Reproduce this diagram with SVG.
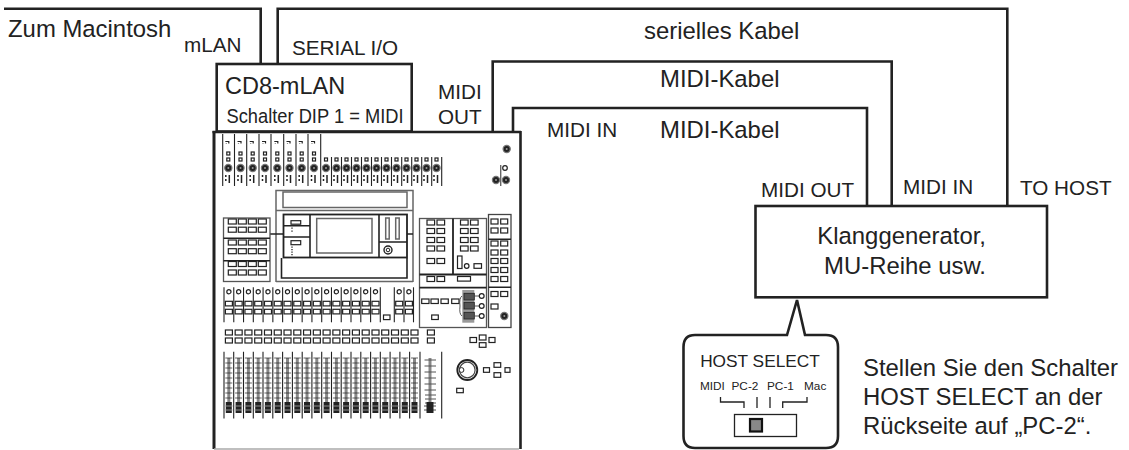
<svg xmlns="http://www.w3.org/2000/svg" width="1129" height="450" viewBox="0 0 1129 450">
<style>
text{font-family:"Liberation Sans",Arial,sans-serif;fill:#222;font-size:23.900px}
.w{fill:none;stroke:#222;stroke-width:2.600}
.box{fill:#fff;stroke:#222;stroke-width:2.600}
.b{fill:#fff;stroke:#222;stroke-width:1.200}
.g{fill:none;stroke:#666;stroke-width:1.500}
.k{fill:none;stroke:#222;stroke-width:1.600}
.t{fill:none;stroke:#222;stroke-width:1.200}
.l{stroke:#222;stroke-width:1.100;fill:none}
text.s{font-size:20.700px}
text.m{font-size:11.800px}
</style>
<defs>
<g id="knob"><circle r="3.600" fill="#222" stroke="#777" stroke-width="1.200"/><circle r="1" fill="#999"/></g>
<g id="chA">
<path d="M-3-.5h3.500v2M-2 1v.5" class="t"/>
<rect x="-1.500" y="10" width="3" height="3" class="b"/><rect x="-1.500" y="16" width="3" height="3" class="b"/>
<use href="#knob" y="26"/>
<path d="M-2.500 33v2M-2.500 37v2M1 33v8" stroke="#222" stroke-width="1.500" fill="none"/>
</g>
<g id="chB">
<rect x="-1.500" y="16" width="3" height="3" class="b"/>
<use href="#knob" y="26"/>
<path d="M-2.500 33v2M-2.500 37v2M1 33v8" stroke="#222" stroke-width="1.500" fill="none"/>
</g>
<g id="lc">
<path d="M0 0V35" class="l"/>
<circle cx="4.900" cy="4.400" r="2.100" class="b"/>
<rect x="1.400" y="14" width="7" height="4.600" class="b"/>
<rect x="1.400" y="22" width="7" height="4.600" class="b"/>
</g>
<g id="two">
<rect x="0" y="0" width="7.600" height="5" class="b"/>
<rect x="10" y="0" width="7.600" height="5" class="b"/>
</g>
<g id="four">
<rect x="0" y="0" width="8" height="5" class="b"/><rect x="10" y="0" width="8" height="5" class="b"/><rect x="20" y="0" width="8" height="5" class="b"/><rect x="30" y="0" width="8" height="5" class="b"/>
</g>
<g id="fader">
<path d="M0 358V404" stroke="#888" stroke-width="3"/>
<path d="M-3.500 358H3.500M-3.500 363H3.500M-3.500 368H3.500M-3.500 373H3.500M-3.500 378H3.500M-3.500 383H3.500M-3.500 388H3.500M-3.500 393H3.500M-3.500 398H3.500" stroke="#222" stroke-width=".7"/>
<rect x="-3" y="402" width="6" height="11" fill="#222"/>
<path d="M-4 406H4M-4 410H4" stroke="#aaa" stroke-width=".8"/>
</g>
<rect id="fb1" x="0" y="0" width="7" height="5" class="b"/>
<g id="fb"><rect x="1.400" y="0" width="7" height="5" class="b"/><rect x="1.400" y="8" width="7" height="5" class="b"/></g>
</defs>

<g id="connectors">
<path class="w" d="M4 8.700H260.700V66"/>
<path class="w" d="M277.700 66V8.700H1007.300V207"/>
<path class="w" d="M492.700 132V61.500H891.700V207"/>
<path class="w" d="M513 132V108H867V207"/>
</g>

<g id="cd8-mlan">
<rect class="box" x="216.700" y="64" width="195" height="67.500"/>
<text x="225" y="94.300" style="font-size:23.500px">CD8-mLAN</text>
<text x="226.500" y="122.700" style="font-size:20.500px" textLength="177" lengthAdjust="spacingAndGlyphs">Schalter DIP 1 = MIDI</text>
</g>

<g id="console">
<path d="M214 131V449" fill="none" stroke="#222" stroke-width="3"/>
<path d="M212.500 132H521M520.500 131V449" fill="none" stroke="#222" stroke-width="2.600"/>
<path d="M214 449H519" stroke="#aaa" stroke-width="1.500"/>
<g id="strips" transform="translate(0,142)">
<path d="M222.700-8V44M234.500-8V44M246.700-8V44M259-8V44M271-8V44M283.700-8V44M296-8V44M308-8V44M320.700-8V44M331.500 15V44M341.500 15V44M351.500 15V44M361.500 15V44M371.500 15V44M381.500 15V44M391.500 15V44M401.700 15V44M411.700 15V44M421.700 15V44M431.700 15V44M441.700 15V44" class="l"/>
<use href="#chA" x="228.300"/><use href="#chA" x="240.500"/><use href="#chA" x="252.700"/><use href="#chA" x="265"/><use href="#chA" x="277.300"/><use href="#chA" x="289.500"/><use href="#chA" x="301.700"/><use href="#chA" x="314"/>
<use href="#chB" x="326"/><use href="#chB" x="336.500"/><use href="#chB" x="346.500"/><use href="#chB" x="356.500"/><use href="#chB" x="366.500"/><use href="#chB" x="376.500"/><use href="#chB" x="386.500"/><use href="#chB" x="396.500"/>
<use href="#chB" x="406.500"/><use href="#chB" x="416.500"/><use href="#chB" x="426.500"/><use href="#chB" x="436.500"/>
</g>
<use href="#knob" x="506.700" y="149"/>
<path d="M500.700 165V186" stroke="#666" stroke-width="1.400"/>
<circle cx="505" cy="168" r="2.300" class="b"/>
<use href="#knob" x="496" y="180"/><use href="#knob" x="506" y="180"/>

<g id="display">
<path class="g" d="M276 282V190.500H413V282M276 210.500H413M276 281.500H413"/>
<rect class="g" x="283" y="192" width="124" height="15.500"/>
<path class="k" d="M281.500 258V278H407V258M270 234H283.500M407 234H413"/>
<rect x="283.500" y="214.500" width="123.500" height="43" fill="#fff" stroke="#222" stroke-width="1.800"/>
<path class="k" d="M283.500 225.700H310M283.500 237H310M310 214.500V257.500M379 214.500V257.500M379 242H407"/>
<rect class="g" x="316.700" y="218.500" width="55.300" height="34.500"/>
<rect class="g" x="385.700" y="218" width="3.500" height="21"/>
<rect class="g" x="395.700" y="218" width="3.500" height="21"/>
<circle cx="388" cy="250" r="4" fill="none" stroke="#222" stroke-width="1.400"/><circle cx="388" cy="250" r="1.800" fill="none" stroke="#222"/>
<rect class="b" x="291" y="220.700" width="9.700" height="3.500"/>
<rect class="b" x="291" y="240.700" width="9.700" height="4"/>
<path d="M292 227.500v1.300M292 230.500v1.300M292 246.500v1.300M292 249v1.300M292 251.500v1.300M292 254v1.300" stroke="#222" stroke-width="1.300"/>
</g>

<g id="left-buttons">
<rect x="223.500" y="218" width="46.500" height="63.500" fill="#fff" stroke="#555" stroke-width="1.300"/>
<path d="M223.500 238.300H270M223.500 260.700H270" stroke="#222" stroke-width="1.400"/>
<use href="#four" x="228.300" y="219"/><use href="#four" x="228.300" y="227.200"/>
<use href="#four" x="228.300" y="240"/><use href="#four" x="228.300" y="248.700"/>
<use href="#four" x="228.300" y="261.500"/><use href="#four" x="228.300" y="270"/>
</g>

<g id="mid-buttons">
<rect x="419.500" y="218.500" width="67" height="109" fill="#fff" stroke="#555" stroke-width="1.300"/>
<path d="M453 218.500V274" stroke="#222" stroke-width="1.800"/>
<path d="M419.500 274.500H486.500M419.500 287.700H486.500" stroke="#222" stroke-width="1.800"/>
<use href="#two" x="427" y="220"/><use href="#two" x="427" y="228.500"/><use href="#two" x="427" y="237.500"/><use href="#two" x="427" y="246"/><use href="#two" x="427" y="258.500"/>
<use href="#two" x="460.500" y="220"/><use href="#two" x="460.500" y="228.500"/><use href="#two" x="460.500" y="237.500"/><use href="#two" x="460.500" y="246"/>
<rect class="b" x="457.500" y="256" width="4.500" height="12.500"/>
<circle class="b" cx="466.700" cy="266" r="2.300"/>
<rect class="b" x="474" y="263.700" width="7.500" height="4.600"/>
<use href="#two" x="427" y="276.500"/>
<rect class="b" x="457.500" y="276.500" width="13" height="4.600"/>
<rect class="b" x="421.700" y="299" width="7.300" height="4.500"/><rect class="b" x="431" y="299" width="7.300" height="4.500"/><rect class="b" x="441" y="299" width="7.300" height="4.500"/><rect class="b" x="451.700" y="299" width="7.300" height="4.500"/>
<rect class="b" x="431.700" y="315" width="6.600" height="4.500"/>
<rect x="462.300" y="290" width="12" height="32.700" fill="#999"/>
<rect x="464" y="293.300" width="10.300" height="6.700" fill="#555" stroke="#222" stroke-width=".8"/>
<rect x="464" y="302.300" width="10.300" height="6.700" fill="#555" stroke="#222" stroke-width=".8"/>
<rect x="464" y="312.300" width="10.300" height="6.700" fill="#555" stroke="#222" stroke-width=".8"/>
<path d="M474 296H480M474 306H480M474 316H480M462 296Q459 298 460 306Q459 314 462 316" fill="none" stroke="#444" stroke-width=".9"/>
<circle class="b" cx="481.700" cy="296" r="2.400"/><circle class="b" cx="481.700" cy="306" r="2.400"/><circle class="b" cx="481.700" cy="316" r="2.400"/>
</g>

<g id="right-buttons">
<rect x="488.500" y="214.500" width="22.500" height="113" fill="#fff" stroke="#444" stroke-width="1.300"/>
<path d="M488.500 239.300H511M488.500 287.300H511" stroke="#222" stroke-width="1.400"/>
<use href="#fb1" x="491" y="219"/><use href="#fb1" x="500.700" y="219"/><use href="#fb1" x="491" y="228"/><use href="#fb1" x="500.700" y="228"/>
<use href="#fb1" x="491" y="241"/><use href="#fb1" x="500.700" y="241"/><use href="#fb1" x="491" y="250"/><use href="#fb1" x="500.700" y="250"/><use href="#fb1" x="491" y="258.500"/><use href="#fb1" x="500.700" y="258.500"/><use href="#fb1" x="491" y="267.500"/><use href="#fb1" x="500.700" y="267.500"/><use href="#fb1" x="491" y="276.500"/><use href="#fb1" x="500.700" y="276.500"/>
<use href="#fb1" x="491" y="291.500"/><use href="#fb1" x="500.700" y="291.500"/><use href="#fb1" x="491" y="304"/>
<use href="#knob" x="504.300" y="316"/>
</g>

<g id="channels" transform="translate(224,287.300)">
<use href="#lc"/><use href="#lc" x="9.770"/><use href="#lc" x="19.540"/><use href="#lc" x="29.310"/><use href="#lc" x="39.080"/><use href="#lc" x="48.850"/><use href="#lc" x="58.620"/><use href="#lc" x="68.390"/><use href="#lc" x="78.160"/><use href="#lc" x="87.930"/><use href="#lc" x="97.700"/><use href="#lc" x="107.470"/><use href="#lc" x="117.240"/><use href="#lc" x="127"/><use href="#lc" x="136.800"/><use href="#lc" x="146.600"/>
<path d="M156.300 0V35" class="l"/>
<use href="#lc" x="170.300"/><use href="#lc" x="180"/><path d="M189.500 0V35" class="l"/>
</g>
<rect class="b" x="383.500" y="315" width="6.500" height="4.600"/>

<g id="fader-buttons" transform="translate(224,330)">
<use href="#fb"/><use href="#fb" x="9.770"/><use href="#fb" x="19.540"/><use href="#fb" x="29.310"/><use href="#fb" x="39.080"/><use href="#fb" x="48.850"/><use href="#fb" x="58.620"/><use href="#fb" x="68.390"/><use href="#fb" x="78.160"/><use href="#fb" x="87.930"/><use href="#fb" x="97.700"/><use href="#fb" x="107.470"/><use href="#fb" x="117.240"/><use href="#fb" x="127"/><use href="#fb" x="136.800"/><use href="#fb" x="146.600"/><use href="#fb" x="156.300"/><use href="#fb" x="166.100"/><use href="#fb" x="175.900"/><use href="#fb" x="185.600"/>
<use href="#fb" x="202"/>
</g>

<g id="faders">
<path d="M224 351.700V418.500M233.700 351.700V418.500M243.500 351.700V418.500M253.300 351.700V418.500M263 351.700V418.500M272.800 351.700V418.500M282.600 351.700V418.500M292.400 351.700V418.500M302.200 351.700V418.500M311.900 351.700V418.500M321.700 351.700V418.500M331.500 351.700V418.500M341.200 351.700V418.500M351 351.700V418.500M360.800 351.700V418.500M370.600 351.700V418.500M380.300 351.700V418.500M390.100 351.700V418.500M399.900 351.700V418.500M409.600 351.700V418.500M420 351.700V418.500M441.700 351.700V418.500" class="l"/>
<use href="#fader" x="228.800"/><use href="#fader" x="238.600"/><use href="#fader" x="248.400"/><use href="#fader" x="258.200"/><use href="#fader" x="267.900"/><use href="#fader" x="277.700"/><use href="#fader" x="287.500"/><use href="#fader" x="297.300"/><use href="#fader" x="307"/><use href="#fader" x="316.800"/><use href="#fader" x="326.600"/><use href="#fader" x="336.400"/><use href="#fader" x="346.100"/><use href="#fader" x="355.900"/><use href="#fader" x="365.700"/><use href="#fader" x="375.400"/><use href="#fader" x="385.200"/><use href="#fader" x="395"/><use href="#fader" x="404.800"/><use href="#fader" x="414.500"/>
<path d="M430 358V412" stroke="#888" stroke-width="3"/>
<path d="M424.500 360H436M424.500 366H436M424.500 372H436M424.500 378H436M424.500 384H436M424.500 390H436M425 395H436M425 399H436M425 403H436" stroke="#555" stroke-width="1"/>
<rect x="426.500" y="402" width="7" height="11" fill="#222"/>
<path d="M424 406H436M424 410H436" stroke="#222" stroke-width=".8"/>
</g>

<g id="encoder">
<circle cx="467.300" cy="370" r="10" fill="#fff" stroke="#222" stroke-width="1.800"/>
<circle cx="467.300" cy="370" r="7.800" fill="none" stroke="#444" stroke-width="1.200"/>
<circle cx="461.500" cy="370" r="2.400" fill="#fff" stroke="#222"/>
<rect class="b" x="483.500" y="367.700" width="6" height="4.600"/>
<rect class="b" x="494" y="362.700" width="6.700" height="4.600"/><rect class="b" x="494" y="372.700" width="6.700" height="4.600"/>
<rect class="b" x="505" y="367.700" width="5" height="4.600"/>
<rect class="b" x="456.700" y="388.300" width="6.600" height="4.400"/>
<rect class="b" x="470" y="337.500" width="6.500" height="5"/><rect class="b" x="479.300" y="335" width="6.700" height="5"/><rect class="b" x="479.300" y="342.700" width="6.700" height="4.600"/><rect class="b" x="489" y="337.500" width="6" height="5"/>
</g>
</g>

<g id="klanggenerator">
<rect class="box" x="755.500" y="206" width="291.500" height="91.300"/>
<text x="986" y="244" text-anchor="end">Klanggenerator,</text>
<text x="986" y="274" text-anchor="end">MU-Reihe usw.</text>
</g>

<g id="host-select">
<path class="box" d="M787 335H695Q683.500 335 683.500 347V436Q683.500 448 695 448H826Q838 448 838 436V347Q838 335 826 335H805L797 300Z"/>
<text x="760" y="367" text-anchor="middle" style="font-size:17.300px">HOST SELECT</text>
<text x="700" y="389.500" class="m">MIDI</text>
<text x="731.500" y="389.500" class="m">PC-2</text>
<text x="767" y="389.500" class="m">PC-1</text>
<text x="804" y="389.500" class="m">Mac</text>
<path d="M720.500 397V402H744V408M757 397V408M770 397V408M782.700 408V402H807V397" fill="none" stroke="#222" stroke-width="1.300"/>
<rect x="734.500" y="414.500" width="62" height="22" fill="#fff" stroke="#222" stroke-width="1.300"/>
<rect x="750" y="419" width="12" height="12.500" fill="#888" stroke="#111" stroke-width="2.200"/>
</g>

<g id="labels">
<text x="8" y="36.700">Zum Macintosh</text>
<text x="184" y="51.700" class="s">mLAN</text>
<text x="292" y="55" class="s">SERIAL I/O</text>
<text x="644" y="39">serielles Kabel</text>
<text x="660" y="87">MIDI-Kabel</text>
<text x="660" y="138">MIDI-Kabel</text>
<text x="547" y="137" class="s">MIDI IN</text>
<text x="438" y="99" class="s">MIDI</text>
<text x="438" y="124" class="s">OUT</text>
<text x="761" y="197" class="s">MIDI OUT</text>
<text x="903" y="194" class="s">MIDI IN</text>
<text x="1020" y="195" class="s">TO HOST</text>
<text x="863" y="376">Stellen Sie den Schalter</text>
<text x="863" y="405">HOST SELECT an der</text>
<text x="863" y="434">Rückseite auf „PC-2“.</text>
</g>
</svg>
